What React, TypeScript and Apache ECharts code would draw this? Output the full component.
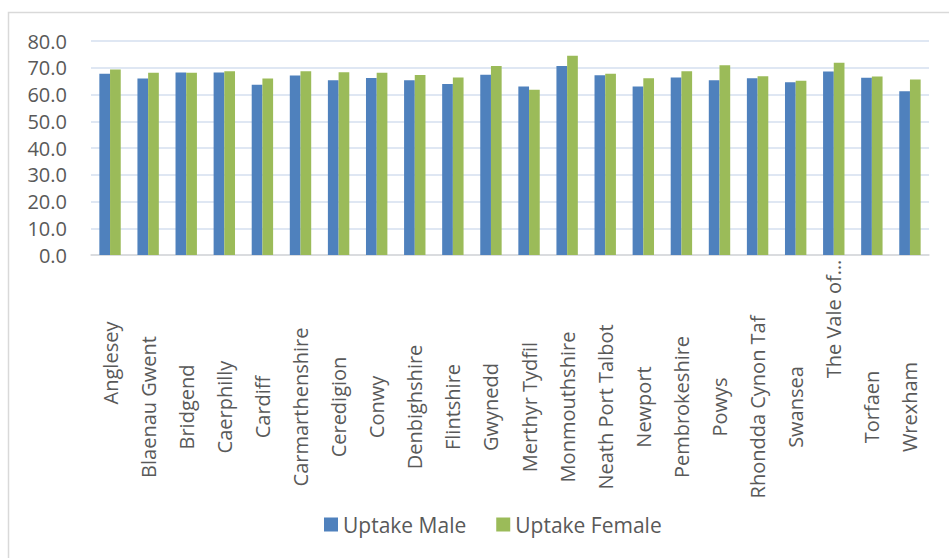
import React, { useEffect, useRef } from "react";
import * as echarts from "echarts";

const categories = [
  "Anglesey", "Blaenau Gwent", "Bridgend", "Caerphilly", "Cardiff", "Carmarthenshire",
  "Ceredigion", "Conwy", "Denbighshire", "Flintshire", "Gwynedd", "Merthyr Tydfil",
  "Monmouthshire", "Neath Port Talbot", "Newport", "Pembrokeshire", "Powys",
  "Rhondda Cynon Taf", "Swansea", "The Vale of…", "Torfaen", "Wrexham",
];
const uptakeMale = [
  67.8, 66.0, 68.2, 68.2, 63.6, 67.1, 65.3, 66.2, 65.3, 63.9, 67.4, 63.0,
  70.7, 67.2, 63.0, 66.4, 65.3, 66.1, 64.6, 68.6, 66.3, 61.2,
];
const uptakeFemale = [
  69.3, 68.1, 68.1, 68.7, 66.0, 68.7, 68.3, 68.1, 67.3, 66.4, 70.7, 61.8,
  74.5, 67.8, 66.1, 68.7, 70.9, 66.8, 65.1, 71.9, 66.7, 65.6,
];
const yTicks = { min: 0, max: 80, interval: 10 };
const seriesNames = ["Uptake Male", "Uptake Female"];

export default function App() {
  const ref = useRef<HTMLDivElement>(null);
  useEffect(() => {
    if (!ref.current) return;
    const chart = echarts.init(ref.current, undefined, { renderer: "svg" });
    const font = "'Open Sans', 'Noto Sans', sans-serif";
    const labelText = { fontFamily: font, fontSize: 20, color: "#595959", align: "center" };
    chart.setOption({
      animation: false,
      backgroundColor: "#ffffff",
      graphic: [
        {
          type: "rect",
          shape: { x: 8.5, y: 12.5, width: 1000, height: 600 },
          style: { fill: "none", stroke: "#D9D9D9", lineWidth: 1.5 },
          silent: true,
        },
      ],
      grid: { left: 91, right: 20, top: 41, bottom: 303, containLabel: false },
      legend: {
        data: seriesNames,
        bottom: 18,
        left: 319,
        itemWidth: 14,
        itemHeight: 14,
        itemGap: 30,
        icon: "rect",
        textStyle: { fontFamily: font, fontSize: 21, color: "#595959" },
      },
      xAxis: {
        type: "category",
        data: categories,
        axisLine: { show: true, lineStyle: { color: "#D9D9D9", width: 1.5 } },
        axisTick: { show: false },
        axisLabel: {
          rotate: 90,
          interval: 0,
          align: "right",
          verticalAlign: "middle",
          margin: 2,
          formatter: (v: string) => {
            if (v === "Anglesey") return `{s|${v}}`;
            if (v.startsWith("The Vale")) return `{v|${v}}`;
            return `{a|${v}}`;
          },
          rich: {
            a: { ...labelText, width: 300 },
            s: { ...labelText, width: 212 },
            v: { ...labelText, width: 124 },
          },
        },
      },
      yAxis: {
        type: "value",
        min: yTicks.min,
        max: yTicks.max,
        interval: yTicks.interval,
        axisLine: { show: false },
        axisTick: { show: false },
        axisLabel: {
          formatter: (v: number) => v.toFixed(1),
          fontFamily: font,
          fontSize: 20,
          color: "#595959",
          margin: 24,
        },
        splitLine: { lineStyle: { color: "#D4DFEF", width: 1.5 } },
      },
      series: [
        {
          name: seriesNames[0],
          type: "bar",
          data: uptakeMale,
          barWidth: 10.7,
          barGap: "0%",
          itemStyle: { color: "#4F81BD" },
        },
        {
          name: seriesNames[1],
          type: "bar",
          data: uptakeFemale,
          barWidth: 10.7,
          barGap: "0%",
          itemStyle: { color: "#9BBB59" },
        },
      ],
    });
    return () => chart.dispose();
  }, []);
  return (
    <div
      ref={ref}
      style={{ position: "fixed", left: 0, top: 0, width: 949, height: 558 }}
    />
  );
}
